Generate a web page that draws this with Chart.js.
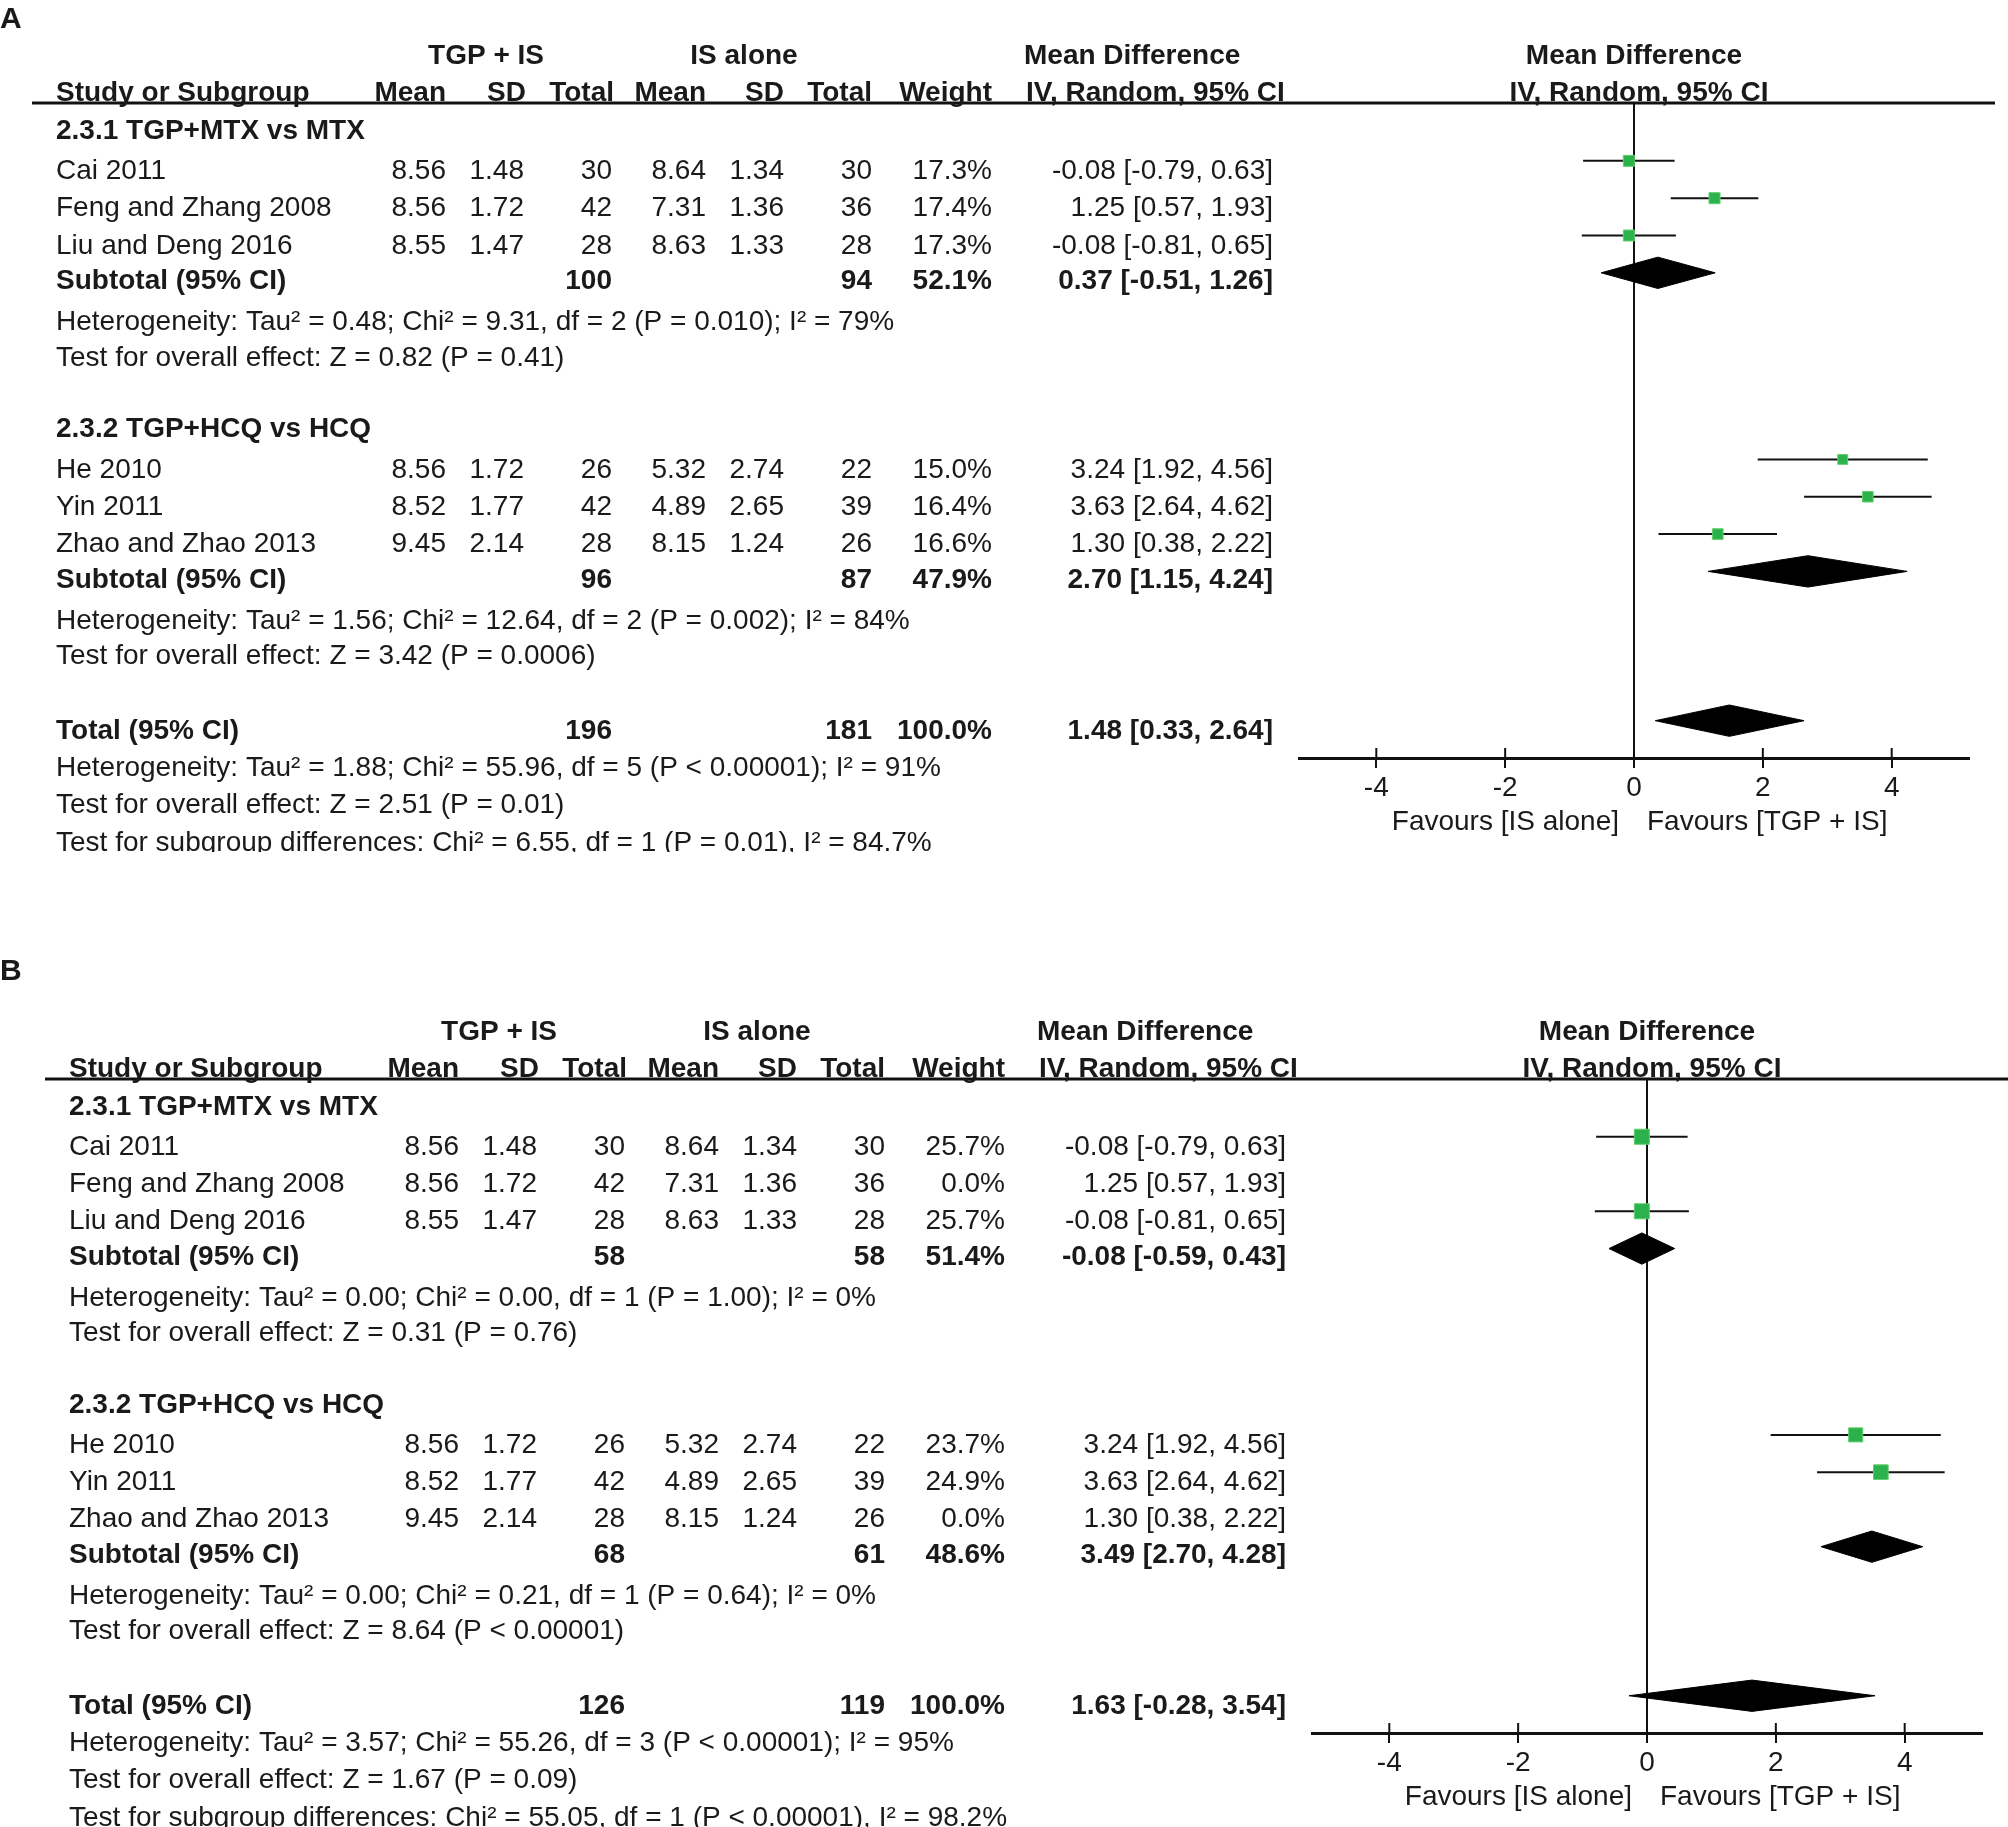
<!DOCTYPE html>
<html>
<head>
<meta charset="utf-8">
<title>Forest plot</title>
<script src="https://cdn.jsdelivr.net/npm/chart.js@4.4.1/dist/chart.umd.min.js"></script>
<style>
  html, body { margin: 0; padding: 0; background: #fff; overflow: hidden; }
  body { width: 2008px; height: 1827px; position: relative; }
  canvas { position: absolute; left: 0; }
  #panelA { top: 0; }
  #panelB { top: 940px; }
</style>
</head>
<body>
<canvas id="panelA" width="2008" height="852"></canvas>
<canvas id="panelB" width="2008" height="887"></canvas>
<script>
// ---- data ----
const studies    = ['Cai 2011', 'Feng and Zhang 2008', 'Liu and Deng 2016', 'He 2010', 'Yin 2011', 'Zhao and Zhao 2013'];
const studyGroup = [0, 0, 0, 1, 1, 1];
const groupNames = ['2.3.1 TGP+MTX vs MTX', '2.3.2 TGP+HCQ vs HCQ'];

// TGP + IS arm
const tgpMean = [8.56, 8.56, 8.55, 8.56, 8.52, 9.45];
const tgpSD   = [1.48, 1.72, 1.47, 1.72, 1.77, 2.14];
const tgpN    = [30, 42, 28, 26, 42, 28];
// IS alone arm
const isMean  = [8.64, 7.31, 8.63, 5.32, 4.89, 8.15];
const isSD    = [1.34, 1.36, 1.33, 2.74, 2.65, 1.24];
const isN     = [30, 36, 28, 22, 39, 26];
// mean difference [95% CI]
const md      = [-0.08, 1.25, -0.08, 3.24, 3.63, 1.30];
const ciLow   = [-0.79, 0.57, -0.81, 1.92, 2.64, 0.38];
const ciHigh  = [0.63, 1.93, 0.65, 4.56, 4.62, 2.22];

// weights (%), panel A and panel B
const weightA = [17.3, 17.4, 17.3, 15.0, 16.4, 16.6];
const weightB = [25.7, 0.0, 25.7, 23.7, 24.9, 0.0];

// subgroup results, panel A
const subTgpA    = [100, 96];
const subIsA     = [94, 87];
const subWeightA = [52.1, 47.9];
const subMdA     = [0.37, 2.70];
const subLowA    = [-0.51, 1.15];
const subHighA   = [1.26, 4.24];
const subHetA    = ['Heterogeneity: Tau² = 0.48; Chi² = 9.31, df = 2 (P = 0.010); I² = 79%',
                    'Heterogeneity: Tau² = 1.56; Chi² = 12.64, df = 2 (P = 0.002); I² = 84%'];
const subTestA   = ['Test for overall effect: Z = 0.82 (P = 0.41)',
                    'Test for overall effect: Z = 3.42 (P = 0.0006)'];

// subgroup results, panel B
const subTgpB    = [58, 68];
const subIsB     = [58, 61];
const subWeightB = [51.4, 48.6];
const subMdB     = [-0.08, 3.49];
const subLowB    = [-0.59, 2.70];
const subHighB   = [0.43, 4.28];
const subHetB    = ['Heterogeneity: Tau² = 0.00; Chi² = 0.00, df = 1 (P = 1.00); I² = 0%',
                    'Heterogeneity: Tau² = 0.00; Chi² = 0.21, df = 1 (P = 0.64); I² = 0%'];
const subTestB   = ['Test for overall effect: Z = 0.31 (P = 0.76)',
                    'Test for overall effect: Z = 8.64 (P < 0.00001)'];

// overall totals, [panel A, panel B]
const totTgp  = [196, 126];
const totIs   = [181, 119];
const totMd   = [1.48, 1.63];
const totLow  = [0.33, -0.28];
const totHigh = [2.64, 3.54];
const totHet  = ['Heterogeneity: Tau² = 1.88; Chi² = 55.96, df = 5 (P < 0.00001); I² = 91%',
                 'Heterogeneity: Tau² = 3.57; Chi² = 55.26, df = 3 (P < 0.00001); I² = 95%'];
const totTest = ['Test for overall effect: Z = 2.51 (P = 0.01)',
                 'Test for overall effect: Z = 1.67 (P = 0.09)'];
const subDiff = ['Test for subgroup differences: Chi² = 6.55, df = 1 (P = 0.01), I² = 84.7%',
                 'Test for subgroup differences: Chi² = 55.05, df = 1 (P < 0.00001), I² = 98.2%'];

const xTicks = [-4, -2, 0, 2, 4];

// ---- look ----
const FONT  = '"Liberation Sans", Arial, Helvetica, sans-serif';
const INK   = '#1a1a1a';
const GREEN = '#2bb24c';
const Y_MIN = -0.55, Y_MAX = 17;   // header rule .. axis, in table rows
const DIAMOND_H = 0.42;

// row of each study in the table (group header, 3 studies, subtotal, ...)
const seen = [0, 0];
const studyRow = studies.map((s, i) => studyGroup[i] * 8 + 1 + seen[studyGroup[i]]++);

function fmtCI(m, l, h) {
  return m.toFixed(2) + ' [' + l.toFixed(2) + ', ' + h.toFixed(2) + ']';
}

// square side grows with the study weight
function squareRadius(w) {
  const side = 11 + (w - 17.3) * 0.48;
  return side / (2 * Math.SQRT1_2);
}

function buildDatasets(p) {
  const ds = [];
  // line of no effect
  ds.push({ data: [{ x: 0, y: Y_MIN }, { x: 0, y: Y_MAX }], borderColor: '#111', borderWidth: 2, pointRadius: 0, order: 3 });

  const sq = [], sqR = [];
  studies.forEach((s, i) => {
    if (p.weight[i] <= 0) return;
    ds.push({ data: [{ x: ciLow[i], y: studyRow[i] }, { x: ciHigh[i], y: studyRow[i] }],
      borderColor: '#111', borderWidth: 2, pointRadius: 0, order: 2 });
    sq.push({ x: md[i], y: studyRow[i] });
    sqR.push(squareRadius(p.weight[i]));
  });
  ds.push({ data: sq, showLine: false, pointStyle: 'rect', pointRadius: sqR,
    backgroundColor: GREEN, borderColor: '#62cf6e', borderWidth: 1, order: 0 });

  const diamond = (m, l, h, r) => {
    ds.push({ data: [{ x: l, y: r }, { x: m, y: r - DIAMOND_H }, { x: h, y: r }],
      borderColor: '#000', borderWidth: 1, pointRadius: 0, fill: false, order: 1 });
    ds.push({ data: [{ x: l, y: r }, { x: m, y: r + DIAMOND_H }, { x: h, y: r }],
      borderColor: '#000', borderWidth: 1, pointRadius: 0, fill: '-1', backgroundColor: '#000', order: 1 });
  };
  diamond(p.subMd[0], p.subLow[0], p.subHigh[0], 4);
  diamond(p.subMd[1], p.subLow[1], p.subHigh[1], 12);
  diamond(totMd[p.k], totLow[p.k], totHigh[p.k], 16);
  return ds;
}

function tablePlugin(p) {
  return {
    id: 'table' + p.label,
    afterDraw(chart) {
      const ctx = chart.ctx, area = chart.chartArea;
      const xs = chart.scales.x, ys = chart.scales.y;
      const X = v => v + p.dx;
      const rowY = r => ys.getPixelForValue(r) + 8;   // text sits a little under the marks
      const zero = xs.getPixelForValue(0);

      function txt(s, x, y, align, bold, size) {
        size = size || 28;
        ctx.font = (bold ? 'bold ' : '') + size + 'px ' + FONT;
        ctx.fillStyle = INK;
        ctx.textAlign = align;
        ctx.textBaseline = 'alphabetic';
        ctx.fillText(s, x, y + size * 0.36);
      }

      ctx.save();
      // upper half of the axis ticks
      ctx.strokeStyle = '#111';
      ctx.lineWidth = 2;
      xs.ticks.forEach(t => {
        const px = xs.getPixelForValue(t.value);
        ctx.beginPath(); ctx.moveTo(px, area.bottom - 10); ctx.lineTo(px, area.bottom); ctx.stroke();
      });
      // header rule
      ctx.lineWidth = 3;
      ctx.beginPath(); ctx.moveTo(X(32), area.top); ctx.lineTo(p.lineEnd, area.top); ctx.stroke();

      txt(p.label, 0, p.labelY, 'left', true, 30);

      // column headers
      const h1 = area.top - 49, h2 = area.top - 12;
      txt('TGP + IS', X(486), h1, 'center', true);
      txt('IS alone', X(744), h1, 'center', true);
      txt('Mean Difference', X(1024), h1, 'left', true);
      txt('Mean Difference', zero, h1, 'center', true);
      txt('Study or Subgroup', X(56), h2, 'left', true);
      txt('Mean', X(446), h2, 'right', true);
      txt('SD', X(526), h2, 'right', true);
      txt('Total', X(614), h2, 'right', true);
      txt('Mean', X(706), h2, 'right', true);
      txt('SD', X(784), h2, 'right', true);
      txt('Total', X(872), h2, 'right', true);
      txt('Weight', X(992), h2, 'right', true);
      txt('IV, Random, 95% CI', X(1026), h2, 'left', true);
      txt('IV, Random, 95% CI', zero + 5, h2, 'center', true);

      // study rows
      studies.forEach((s, i) => {
        const y = rowY(studyRow[i]);
        txt(s, X(56), y, 'left');
        txt(tgpMean[i].toFixed(2), X(446), y, 'right');
        txt(tgpSD[i].toFixed(2), X(524), y, 'right');
        txt(String(tgpN[i]), X(612), y, 'right');
        txt(isMean[i].toFixed(2), X(706), y, 'right');
        txt(isSD[i].toFixed(2), X(784), y, 'right');
        txt(String(isN[i]), X(872), y, 'right');
        txt(p.weight[i].toFixed(1) + '%', X(992), y, 'right');
        txt(fmtCI(md[i], ciLow[i], ciHigh[i]), X(1273), y, 'right');
      });

      // subgroup blocks
      for (let g = 0; g < 2; g++) {
        const base = g * 8;
        txt(groupNames[g], X(56), rowY(base - 0.08), 'left', true);
        const y = rowY(base + 3.95);
        txt('Subtotal (95% CI)', X(56), y, 'left', true);
        txt(String(p.subTgp[g]), X(612), y, 'right', true);
        txt(String(p.subIs[g]), X(872), y, 'right', true);
        txt(p.subWeight[g].toFixed(1) + '%', X(992), y, 'right', true);
        txt(fmtCI(p.subMd[g], p.subLow[g], p.subHigh[g]), X(1273), y, 'right', true);
        txt(p.subHet[g], X(56), rowY(base + 5.05), 'left');
        txt(p.subTest[g], X(56), rowY(base + 6), 'left');
      }

      // overall
      const yt = rowY(16);
      txt('Total (95% CI)', X(56), yt, 'left', true);
      txt(String(totTgp[p.k]), X(612), yt, 'right', true);
      txt(String(totIs[p.k]), X(872), yt, 'right', true);
      txt('100.0%', X(992), yt, 'right', true);
      txt(fmtCI(totMd[p.k], totLow[p.k], totHigh[p.k]), X(1273), yt, 'right', true);
      txt(totHet[p.k], X(56), rowY(17), 'left');
      txt(totTest[p.k], X(56), rowY(18), 'left');
      txt(subDiff[p.k], X(56), rowY(19), 'left');

      // favours labels under the axis
      txt('Favours [IS alone]', zero - 15, area.bottom + 62, 'right');
      txt('Favours [TGP + IS]', zero + 13, area.bottom + 62, 'left');
      ctx.restore();
    }
  };
}

function makePanel(id, p) {
  const canvas = document.getElementById(id);
  const H = canvas.height;
  return new Chart(canvas.getContext('2d'), {
    type: 'line',
    data: { datasets: buildDatasets(p) },
    options: {
      responsive: false,
      animation: false,
      devicePixelRatio: 1,
      events: [],
      layout: { padding: { left: p.left, right: 2008 - p.right, top: p.top, bottom: H - p.axisY - 40 } },
      plugins: { legend: { display: false }, tooltip: { enabled: false } },
      scales: {
        x: {
          type: 'linear', position: 'bottom', min: -5.2, max: 5.2, bounds: 'data',
          afterBuildTicks: s => { s.ticks = xTicks.map(v => ({ value: v })); },
          afterFit: s => { s.height = 40; },
          grid: { display: true, drawOnChartArea: false, drawTicks: true, tickLength: 10, color: '#111', lineWidth: 2 },
          border: { display: true, color: '#111', width: 3 },
          ticks: { font: { family: FONT, size: 28 }, color: INK, padding: 3, maxRotation: 0 }
        },
        y: { type: 'linear', display: false, reverse: true, min: Y_MIN, max: Y_MAX, bounds: 'data' }
      }
    },
    plugins: [tablePlugin(p)]
  });
}

makePanel('panelA', {
  k: 0, label: 'A', labelY: 17, dx: 0, top: 103, axisY: 758, left: 1299, right: 1969, lineEnd: 1995,
  weight: weightA, subTgp: subTgpA, subIs: subIsA, subWeight: subWeightA,
  subMd: subMdA, subLow: subLowA, subHigh: subHighA, subHet: subHetA, subTest: subTestA
});

makePanel('panelB', {
  k: 1, label: 'B', labelY: 29, dx: 13, top: 139, axisY: 793, left: 1312, right: 1982, lineEnd: 2008,
  weight: weightB, subTgp: subTgpB, subIs: subIsB, subWeight: subWeightB,
  subMd: subMdB, subLow: subLowB, subHigh: subHighB, subHet: subHetB, subTest: subTestB
});
</script>
</body>
</html>
